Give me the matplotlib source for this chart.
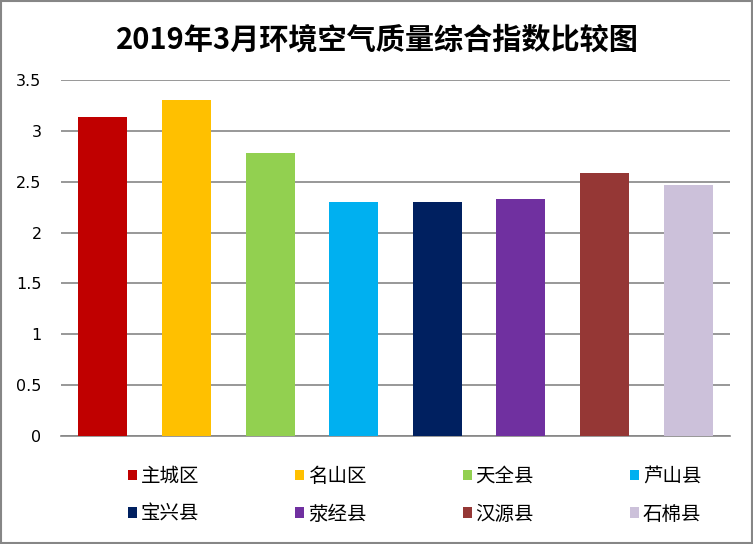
import matplotlib
matplotlib.use("Agg")
import matplotlib.pyplot as plt
from matplotlib.patches import Patch, Rectangle

plt.rcParams['font.family'] = ['Noto Sans CJK SC', 'DejaVu Sans']

title = "2019年3月环境空气质量综合指数比较图"
categories = ["主城区", "名山区", "天全县", "芦山县", "宝兴县", "荥经县", "汉源县", "石棉县"]
values = [3.14, 3.30, 2.78, 2.30, 2.30, 2.33, 2.59, 2.47]
colors = ["#C00000", "#FFC000", "#92D050", "#00B0F0", "#002060", "#7030A0", "#953735", "#CCC1DA"]
yticks = [0, 0.5, 1, 1.5, 2, 2.5, 3, 3.5]
ytick_labels = ["0", "0.5", "1", "1.5", "2", "2.5", "3", "3.5"]

W, H = 753, 544
fig = plt.figure(figsize=(W / 100, H / 100), dpi=100)
ax = fig.add_axes([61 / W, (H - 436) / H, (730 - 61) / W, (436 - 80) / H])

for i, (v, c) in enumerate(zip(values, colors)):
    ax.bar(i, v, width=0.586, color=c, zorder=3)

ax.set_xlim(-0.5, len(values) - 0.5)
ax.set_ylim(0, 3.5)
ax.set_yticks(yticks)
ax.set_yticklabels(ytick_labels, family=['DejaVu Sans'], fontsize=11.5, color='#000000')
ax.set_xticks([])
ax.tick_params(axis='y', length=0, pad=14)
ax.yaxis.grid(True, color='#868686', linewidth=1.2, zorder=0)
for s in ['top', 'right', 'left']:
    ax.spines[s].set_visible(False)
ax.spines['bottom'].set_color('#868686')
ax.spines['bottom'].set_linewidth(1.2)

fig.text(377 / W, 1 - 39 / H, title, ha='center', va='center',
         fontsize=21, fontweight='bold', family=['Noto Sans CJK SC', 'DejaVu Sans'])

handles = [Patch(facecolor=c, edgecolor='none') for c in colors]
ncol = 4
nrow = 2
order = [r * ncol + c for c in range(ncol) for r in range(nrow)]
leg = fig.legend([handles[k] for k in order], [categories[k] for k in order],
                 ncol=ncol, loc='upper left',
                 bbox_to_anchor=(128 / W, 1 - 466 / H), frameon=False,
                 fontsize=14, handlelength=0.45, handleheight=0.45,
                 handletextpad=0.2, columnspacing=4.95, labelspacing=0.85,
                 borderpad=0, borderaxespad=0)

fig.patches.append(Rectangle((0.001, 0.001), 0.998, 0.997, transform=fig.transFigure,
                             fill=False, edgecolor='#868686', linewidth=1.5))

fig.savefig("out.png", dpi=100)
